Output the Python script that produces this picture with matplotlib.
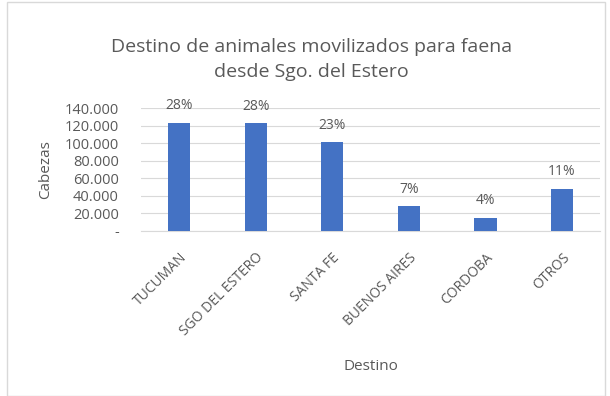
import matplotlib.pyplot as plt
from matplotlib.patches import Rectangle

destinos = ["TUCUMAN", "SGO DEL ESTERO", "SANTA FE", "BUENOS AIRES", "CORDOBA", "OTROS"]
cabezas = [123000, 122500, 101000, 28000, 15000, 48000]
porcentajes = ["28%", "28%", "23%", "7%", "4%", "11%"]
yticks = [0, 20000, 40000, 60000, 80000, 100000, 120000, 140000]
ytick_labels = ["-", "20.000", "40.000", "60.000", "80.000", "100.000", "120.000", "140.000"]

plt.rcParams['font.family'] = ['Open Sans', 'DejaVu Sans']
gray = '#595959'

fig = plt.figure(figsize=(6.1, 3.96), dpi=100)
fig.patches.append(Rectangle((0.012, 0.0), 0.98, 0.995, transform=fig.transFigure,
                             fill=False, edgecolor='#d9d9d9', linewidth=1))
ax = fig.add_axes([0.231, 0.417, 0.753, 0.31])

x = range(len(destinos))
bars = ax.bar(x, cabezas, width=0.29, color='#4472c4', zorder=3)
for b, p in zip(bars, porcentajes):
    ax.text(b.get_x() + b.get_width() / 2, b.get_height() + 11000, p,
            ha='center', va='bottom', fontsize=10, color=gray)

ax.set_xlim(-0.5, len(destinos) - 0.5)
ax.set_ylim(0, 140000)
ax.set_yticks(yticks)
ax.set_yticklabels(ytick_labels, fontsize=10.5, color=gray)
ax.set_xticks(list(x))
ax.set_xticklabels(destinos, rotation=45, ha='right', rotation_mode='anchor',
                   fontsize=10, color=gray)
ax.tick_params(axis='y', length=0, pad=16)
ax.tick_params(axis='x', length=0, pad=14)
ax.grid(axis='y', color='#d9d9d9', linewidth=0.8, zorder=0)
for s in ['top', 'right', 'left']:
    ax.spines[s].set_visible(False)
ax.spines['bottom'].set_color('#d9d9d9')

ax.set_ylabel("Cabezas", fontsize=11, color=gray, labelpad=8)
ax.set_xlabel("Destino", fontsize=11, color=gray, labelpad=14)
fig.text(0.51, 0.85, "Destino de animales movilizados para faena\ndesde Sgo. del Estero",
         ha='center', va='center', fontsize=14, color=gray, linespacing=1.45)

fig.savefig("out.png", dpi=100)
